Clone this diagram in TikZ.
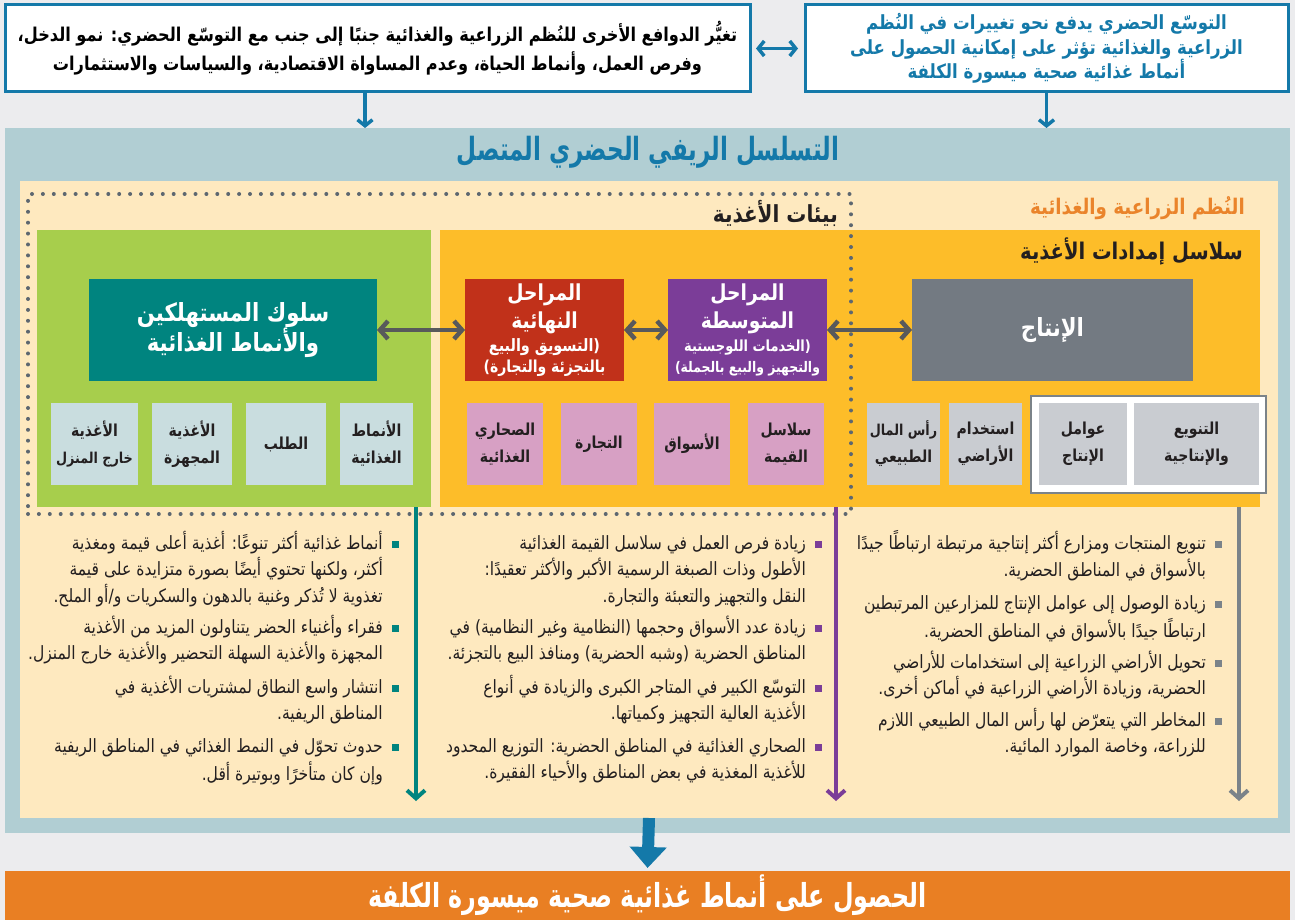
\documentclass[tikz,border=0pt]{standalone}
\usepackage{fontspec}
\usetikzlibrary{arrows.meta}
\TeXXeTstate=1
\newfontfamily\ar[Script=Arabic,FakeStretch=0.85]{DejaVu Sans}
\newfontfamily\arn[Script=Arabic,FakeStretch=0.72]{DejaVu Sans}
\newcommand\RL[1]{\mbox{\beginR #1\endR}}
\newcommand\CL[1]{\mbox{\beginR\hspace{16pt}\strut #1\endR}}
\definecolor{bgc}{HTML}{ECECEE}
\definecolor{blueC}{HTML}{1479A9}
\definecolor{lblue}{HTML}{B1CED3}
\definecolor{cream}{HTML}{FEE9BF}
\definecolor{greenC}{HTML}{A7CE4C}
\definecolor{yellowC}{HTML}{FDBD29}
\definecolor{tealC}{HTML}{00847F}
\definecolor{redC}{HTML}{C1311A}
\definecolor{purpC}{HTML}{7B3D98}
\definecolor{grayC}{HTML}{737A82}
\definecolor{lgb}{HTML}{C9DDDF}
\definecolor{pinkC}{HTML}{D7A0C4}
\definecolor{lgray}{HTML}{C9CCD1}
\definecolor{arrg}{HTML}{58595B}
\definecolor{orangeC}{HTML}{E97F23}
\definecolor{orangeT}{HTML}{EA842B}
\definecolor{vgray}{HTML}{7B8389}
\definecolor{dotc}{HTML}{5D6770}
\definecolor{txt}{HTML}{231F20}
\tikzset{
  reg/.style={anchor=north west, inner sep=0pt, outer sep=0pt},
  sbox/.style={reg, minimum height=82pt, align=center, text=txt,
    font=\ar\bfseries\fontsize{16.5}{27}\selectfont},
  bigbox/.style={reg, minimum height=102pt, align=center, text=white},
  bul/.style={anchor=north east, inner sep=0pt, align=right, text=txt,
    font=\ar\fontsize{18.3}{26.5}\selectfont},
  dbl/.style={draw=arrg, line width=4.5pt,
    {Straight Barb[length=8pt,width=18pt]}-{Straight Barb[length=8pt,width=18pt]}},
  vline/.style={line width=4pt, -{Straight Barb[length=8pt,width=18pt]}},
  bluearr/.style={draw=blueC, line width=3.5pt},
}
\begin{document}
\begin{tikzpicture}[x=1pt,y=-1pt]
\useasboundingbox (0,0) rectangle (1295,920);
\fill[bgc] (0,0) rectangle (1295,920);

% top boxes
\node[reg, fill=white, draw=blueC, line width=3pt, minimum width=745pt, minimum height=87pt,
  align=center, font=\ar\bfseries\fontsize{19}{29}\selectfont] (tl) at (5,5)
  {\RL{تغيُّر الدوافع الأخرى للنُظم الزراعية والغذائية جنبًا إلى جنب مع التوسّع الحضري: نمو الدخل،}\\
   \RL{وفرص العمل، وأنماط الحياة، وعدم المساواة الاقتصادية، والسياسات والاستثمارات}};
\node[reg, fill=white, draw=blueC, line width=3pt, minimum width=483pt, minimum height=87pt,
  align=center, text=blueC, font=\ar\bfseries\fontsize{19.5}{24.5}\selectfont] (tr) at (805,5)
  {\RL{التوسّع الحضري يدفع نحو تغييرات في النُظم}\\
   \RL{الزراعية والغذائية تؤثر على إمكانية الحصول على}\\
   \RL{أنماط غذائية صحية ميسورة الكلفة}};

% regions
\node[reg, fill=lblue, minimum width=1285pt, minimum height=705pt] (blue) at (5,128) {};
\node[reg, fill=cream, minimum width=1258pt, minimum height=637pt] (cream) at (20,181) {};
\node[reg, fill=greenC, minimum width=394pt, minimum height=277pt] (green) at (37,230) {};
\node[reg, fill=yellowC, minimum width=820pt, minimum height=277pt] (yellow) at (440,230) {};
\node[reg, fill=orangeC, minimum width=1285pt, minimum height=49pt, text=white,
  font=\arn\bfseries\fontsize{33}{36}\selectfont] (bottom) at (5,871)
  {\RL{الحصول على أنماط غذائية صحية ميسورة الكلفة}};

% arrows between top boxes
\draw[bluearr, {Straight Barb[length=6pt,width=15pt]}-{Straight Barb[length=6pt,width=15pt]},
  shorten <=6pt, shorten >=7pt] (tl.east) -- (tr.west);
\coordinate (la) at (365,0);
\draw[bluearr, -{Straight Barb[length=6pt,width=15pt]}] (tl.south -| la) -- (blue.north -| la);
\draw[bluearr, -{Straight Barb[length=6pt,width=15pt]}] (tr.south) -- (tr.south |- blue.north);

% titles
\node[text=blueC, font=\arn\bfseries\fontsize{32}{34}\selectfont] (title) at (648,152)
  {\RL{التسلسل الريفي الحضري المتصل}};
\node[anchor=east, inner sep=0pt, text=orangeT, font=\ar\bfseries\fontsize{21.5}{24}\selectfont] (agri) at (1245,208)
  {\RL{النُظم الزراعية والغذائية}};
\node[anchor=east, inner sep=0pt, text=txt, font=\ar\bfseries\fontsize{23.5}{26}\selectfont] (envt) at (838,213)
  {\RL{بيئات الأغذية}};
\node[anchor=east, inner sep=0pt, text=txt, font=\ar\bfseries\fontsize{23}{26}\selectfont] (supt) at (1243,251)
  {\RL{سلاسل إمدادات الأغذية}};

% main boxes
\node[bigbox, fill=tealC, minimum width=288pt, font=\ar\bfseries\fontsize{25}{30}\selectfont] (cons) at (89,279)
  {\RL{سلوك المستهلكين}\\\RL{والأنماط الغذائية}};
\node[bigbox, fill=redC, minimum width=159pt, font=\ar\bfseries\fontsize{22}{28}\selectfont] (final) at (465,279)
  {\RL{المراحل}\\\RL{النهائية}\\[-5pt]
   \RL{\fontsize{17}{18}\selectfont (التسويق والبيع}\\[-7pt]
   \RL{\fontsize{16.5}{18}\selectfont بالتجزئة والتجارة)}};
\node[bigbox, fill=purpC, minimum width=159pt, font=\ar\bfseries\fontsize{22}{28}\selectfont] (mid) at (668,279)
  {\RL{المراحل}\\\RL{المتوسطة}\\[-5pt]
   \RL{\fontsize{15.3}{18}\selectfont (الخدمات اللوجستية}\\[-7pt]
   \RL{\fontsize{14.6}{18}\selectfont والتجهيز والبيع بالجملة)}};
\node[bigbox, fill=grayC, minimum width=281pt, font=\ar\bfseries\fontsize{25}{28}\selectfont] (prod) at (912,279)
  {\RL{الإنتاج}};

% small boxes
\node[sbox, fill=lgb, minimum width=87pt] (g1) at (51,403) {\RL{الأغذية}\\\RL{\fontsize{15}{18}\selectfont خارج المنزل}};
\node[sbox, fill=lgb, minimum width=80pt] (g2) at (152,403) {\RL{الأغذية}\\\RL{المجهزة}};
\node[sbox, fill=lgb, minimum width=80pt] (g3) at (246,403) {\RL{الطلب}};
\node[sbox, fill=lgb, minimum width=73pt] (g4) at (340,403) {\RL{الأنماط}\\\RL{الغذائية}};
\node[sbox, fill=pinkC, minimum width=76pt] (p1) at (467,403) {\RL{الصحاري}\\\RL{الغذائية}};
\node[sbox, fill=pinkC, minimum width=76pt] (p2) at (561,403) {\RL{التجارة}};
\node[sbox, fill=pinkC, minimum width=76pt] (p3) at (654,403) {\RL{الأسواق}};
\node[sbox, fill=pinkC, minimum width=76pt] (p4) at (748,403) {\RL{سلاسل}\\\RL{القيمة}};
\node[sbox, fill=lgray, minimum width=73pt] (s1) at (867,403) {\RL{\fontsize{15}{18}\selectfont رأس المال}\\\RL{الطبيعي}};
\node[sbox, fill=lgray, minimum width=73pt] (s2) at (949,403) {\RL{استخدام}\\\RL{الأراضي}};
\node[reg, fill=white, draw=vgray, line width=1.5pt, minimum width=235pt, minimum height=97pt] (frame) at (1031,396) {};
\node[sbox, fill=lgray, minimum width=88pt] (s3) at (1039,403) {\RL{عوامل}\\\RL{الإنتاج}};
\node[sbox, fill=lgray, minimum width=125pt] (s4) at (1134,403) {\RL{التنويع}\\\RL{والإنتاجية}};

% dotted food environment frame
\node[reg, draw=dotc, line width=4pt, line cap=round, dash pattern=on 0pt off 10.9pt,
  minimum width=823pt, minimum height=320pt] (env) at (28,194) {};

% double arrows
\draw[dbl] (cons.east) -- (final.west);
\draw[dbl] (final.east) -- (mid.west);
\draw[dbl] (mid.east) -- (prod.west);

% vertical arrows
\coordinate (tEnd) at (416,801);
\coordinate (pEnd) at (836,801);
\coordinate (gEnd) at (1239,801);
\draw[vline, draw=tealC] (green.south -| tEnd) -- (tEnd);
\draw[vline, draw=purpC] (yellow.south -| pEnd) -- (pEnd);
\draw[vline, draw=vgray] (yellow.south -| gEnd) -- (gEnd);

% bullets left
\node[bul] (b11) at (399,530.5)
  {\CL{أنماط غذائية أكثر تنوعًا: أغذية أعلى قيمة ومغذية}\\
   \CL{أكثر، ولكنها تحتوي أيضًا بصورة متزايدة على قيمة}\\
   \CL{تغذوية لا تُذكر وغنية بالدهون والسكريات و/أو الملح.}};
\node[bul] (b12) at (399,614.5)
  {\CL{فقراء وأغنياء الحضر يتناولون المزيد من الأغذية}\\
   \CL{المجهزة والأغذية السهلة التحضير والأغذية خارج المنزل.}};
\node[bul] (b13) at (399,674.5)
  {\CL{انتشار واسع النطاق لمشتريات الأغذية في}\\
   \CL{المناطق الريفية.}};
\node[bul] (b14) at (399,733.5)
  {\CL{حدوث تحوّل في النمط الغذائي في المناطق الريفية}\\
   \CL{وإن كان متأخرًا وبوتيرة أقل.}};

% bullets middle
\node[bul] (b21) at (822,530.5)
  {\CL{زيادة فرص العمل في سلاسل القيمة الغذائية}\\
   \CL{الأطول وذات الصبغة الرسمية الأكبر والأكثر تعقيدًا:}\\
   \CL{النقل والتجهيز والتعبئة والتجارة.}};
\node[bul] (b22) at (822,614.5)
  {\CL{زيادة عدد الأسواق وحجمها (النظامية وغير النظامية) في}\\
   \CL{المناطق الحضرية (وشبه الحضرية) ومنافذ البيع بالتجزئة.}};
\node[bul] (b23) at (822,674.5)
  {\CL{التوسّع الكبير في المتاجر الكبرى والزيادة في أنواع}\\
   \CL{الأغذية العالية التجهيز وكمياتها.}};
\node[bul] (b24) at (822,733.5)
  {\CL{الصحاري الغذائية في المناطق الحضرية: التوزيع المحدود}\\
   \CL{للأغذية المغذية في بعض المناطق والأحياء الفقيرة.}};

% bullets right
\node[bul] (b31) at (1222,530.5)
  {\CL{تنويع المنتجات ومزارع أكثر إنتاجية مرتبطة ارتباطًا جيدًا}\\
   \CL{بالأسواق في المناطق الحضرية.}};
\node[bul] (b32) at (1222,590.5)
  {\CL{زيادة الوصول إلى عوامل الإنتاج للمزارعين المرتبطين}\\
   \CL{ارتباطًا جيدًا بالأسواق في المناطق الحضرية.}};
\node[bul] (b33) at (1222,649.5)
  {\CL{تحويل الأراضي الزراعية إلى استخدامات للأراضي}\\
   \CL{الحضرية، وزيادة الأراضي الزراعية في أماكن أخرى.}};
\node[bul] (b34) at (1222,707.5)
  {\CL{المخاطر التي يتعرّض لها رأس المال الطبيعي اللازم}\\
   \CL{للزراعة، وخاصة الموارد المائية.}};

% bullet squares
\foreach \b in {b11,b12,b13,b14}
  \fill[tealC] ([yshift=-10pt]\b.north east) rectangle ++(-7,7);
\foreach \b in {b21,b22,b23,b24}
  \fill[purpC] ([yshift=-10pt]\b.north east) rectangle ++(-7,7);
\foreach \b in {b31,b32,b33,b34}
  \fill[vgray] ([yshift=-10pt]\b.north east) rectangle ++(-7,7);

% bottom arrow
\draw[draw=blueC, line width=12pt, -{Triangle[length=21pt,width=36pt]}, shorten >=3pt]
  (cream.south) -- (bottom.north);
\end{tikzpicture}
\end{document}
